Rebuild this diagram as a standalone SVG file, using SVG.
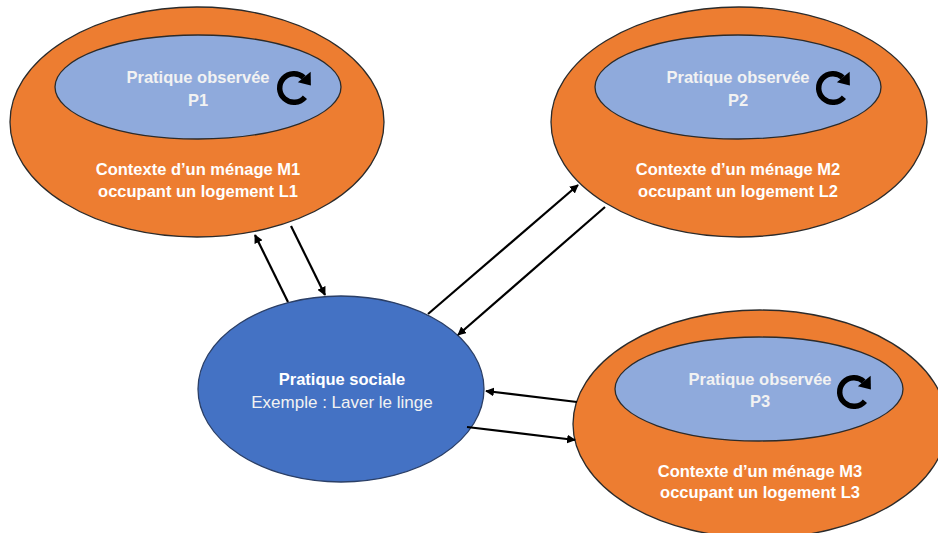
<svg xmlns="http://www.w3.org/2000/svg" xmlns:xlink="http://www.w3.org/1999/xlink" width="938" height="533" viewBox="0 0 938 533">
<style>
.outer{fill:#ED7D31;stroke:#2b2b2b;stroke-width:1.3}
.inner{fill:#8FAADC;stroke:#2b2b2b;stroke-width:1.3}
.central{fill:#4472C4;stroke:#2b3f66;stroke-width:1.3}
.t{font-family:"Liberation Sans",Arial,sans-serif;fill:#ffffff;text-anchor:middle}
.b{font-weight:bold;font-size:16.5px}
.r{font-size:17px}
.lt{fill:#F2F2F2}
.conn line{stroke:#000;stroke-width:2.2;marker-end:url(#ah)}
</style>
<defs>
<marker id="ah" viewBox="0 0 10 10" refX="9" refY="5" markerWidth="4" markerHeight="4" orient="auto" markerUnits="strokeWidth">
<path d="M0,0 L10,5 L0,10 z" fill="#000"/>
</marker>
<g id="cyc">
<path d="M 8.4 7.1 A 11 11 0 1 1 7.5 -8" fill="none" stroke="#000" stroke-width="4.2"/>
<polygon points="13,-2 12.8,-12.5 3,-4.5" fill="#000"/>
</g>
</defs>

<g id="m1">
<ellipse class="outer" cx="197" cy="122" rx="187" ry="115"/>
<ellipse class="inner" cx="198" cy="87" rx="143" ry="52"/>
<text class="t b lt" x="198" y="83">Pratique observée</text>
<text class="t b lt" x="198" y="106">P1</text>
<use xlink:href="#cyc" transform="translate(294,88) scale(1.3)"/>
<text class="t b" x="198" y="175">Contexte d’un ménage M1</text>
<text class="t b" x="198" y="197">occupant un logement L1</text>
</g>

<g id="m2">
<ellipse class="outer" cx="739" cy="122" rx="188" ry="115"/>
<ellipse class="inner" cx="738" cy="87" rx="143" ry="52"/>
<text class="t b lt" x="738" y="83">Pratique observée</text>
<text class="t b lt" x="738" y="106">P2</text>
<use xlink:href="#cyc" transform="translate(833,88) scale(1.3)"/>
<text class="t b" x="738" y="175">Contexte d’un ménage M2</text>
<text class="t b" x="738" y="197">occupant un logement L2</text>
</g>

<g id="m3">
<ellipse class="outer" cx="760" cy="424" rx="187" ry="114"/>
<ellipse class="inner" cx="759" cy="389" rx="144" ry="52"/>
<text class="t b lt" x="760" y="385">Pratique observée</text>
<text class="t b lt" x="760" y="407">P3</text>
<use xlink:href="#cyc" transform="translate(854,392) scale(1.3)"/>
<text class="t b" x="760" y="477">Contexte d’un ménage M3</text>
<text class="t b" x="760" y="498">occupant un logement L3</text>
</g>

<g id="sociale">
<ellipse class="central" cx="341" cy="389" rx="143" ry="93"/>
<text class="t b" x="342" y="385">Pratique sociale</text>
<text class="t r lt" x="342" y="408">Exemple : Laver le linge</text>
</g>

<g id="connectors" class="conn">
<line x1="288" y1="302" x2="255" y2="235"/>
<line x1="291" y1="226" x2="325" y2="295"/>
<line x1="428" y1="314" x2="578" y2="185"/>
<line x1="605" y1="207" x2="458" y2="335"/>
<line x1="577" y1="402" x2="486" y2="391"/>
<line x1="467" y1="427" x2="575" y2="440"/>
</g>
</svg>
